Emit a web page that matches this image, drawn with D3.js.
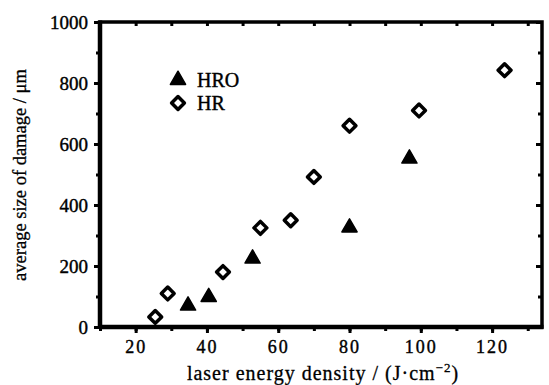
<!DOCTYPE html>
<html>
<head>
<meta charset="utf-8">
<script src="https://cdn.jsdelivr.net/npm/d3@7"></script>
<style>
  body { margin: 0; background: #fff; }
</style>
</head>
<body>
<div id="chart"></div>
<script>
const hrX = [25.5, 29, 44.5, 55, 63.5, 70, 80, 99.5, 123.5];
const hrY = [33, 110, 180, 325, 350, 492, 660, 710, 842];
const hroX = [34.7, 40.5, 52.8, 80, 96.8];
const hroY = [70, 98, 224, 326, 552];
const xTicks = [20, 40, 60, 80, 100, 120];
const yTicks = [0, 200, 400, 600, 800, 1000];
const xLabel = "laser energy density / (J\u00b7cm";
const yLabel = "average size of damage / \u03bcm";

const FONT = "'Liberation Serif', 'DejaVu Serif', serif";
const w = 549, h = 385;
const margin = { top: 22, right: 7, bottom: 58, left: 100 };
const width = w - margin.left - margin.right;
const height = h - margin.top - margin.bottom;

const svg = d3.select("#chart").append("svg")
  .attr("width", w).attr("height", h)
  .style("font-family", FONT);
const g = svg.append("g")
  .attr("transform", `translate(${margin.left},${margin.top})`);

const xSc = d3.scaleLinear().domain([10, 134]).range([0, width]);
const ySc = d3.scaleLinear().domain([0, 1000]).range([height, 0]);

const minorX = d3.range(10, 134, 10);
const minorY = d3.range(0, 1001, 100);

function styleAxis(sel, size) {
  sel.attr("font-family", FONT);
  sel.select(".domain").remove();
  sel.selectAll("line").attr("stroke", "#000").attr("stroke-width", 3);
  sel.selectAll("text")
    .style("font-family", FONT)
    .style("font-size", size + "px")
    .attr("fill", "#000").attr("stroke", "#000").attr("stroke-width", 0.4);
}

// minor ticks
g.append("g").attr("transform", `translate(0,${height})`)
  .call(d3.axisBottom(xSc).tickValues(minorX).tickSize(4).tickFormat(""))
  .call(s => styleAxis(s, 0));
g.append("g")
  .call(d3.axisLeft(ySc).tickValues(minorY).tickSize(4).tickFormat(""))
  .call(s => styleAxis(s, 0));
g.append("g")
  .call(d3.axisBottom(xSc).tickValues(minorX).tickSize(4).tickFormat(""))
  .call(s => styleAxis(s, 0));
g.append("g").attr("transform", `translate(${width},0)`)
  .call(d3.axisRight(ySc).tickValues(minorY).tickSize(-4).tickFormat(""))
  .call(s => styleAxis(s, 0));

// major ticks with labels
g.append("g").attr("transform", `translate(0,${height})`)
  .call(d3.axisBottom(xSc).tickValues(xTicks).tickSize(6).tickPadding(7).tickFormat(d3.format("d")))
  .call(s => styleAxis(s, 18))
  .call(s => s.selectAll("text").style("letter-spacing", "2px"));
g.append("g")
  .call(d3.axisLeft(ySc).tickValues(yTicks).tickSize(6).tickPadding(6).tickFormat(d3.format("d")))
  .call(s => styleAxis(s, 19));
g.append("g").attr("transform", `translate(${width},0)`)
  .call(d3.axisRight(ySc).tickValues(yTicks).tickSize(-6).tickFormat(""))
  .call(s => styleAxis(s, 0));

// frame
g.append("rect")
  .attr("x", 0).attr("y", 0).attr("width", width).attr("height", height)
  .attr("fill", "none").attr("stroke", "#000").attr("stroke-width", 3.5);
g.append("line").attr("x1", 0).attr("x2", 0).attr("y1", -1.5).attr("y2", height + 2)
  .attr("stroke", "#000").attr("stroke-width", 4.5);
g.append("line").attr("x1", 0).attr("x2", width + 1.5).attr("y1", height).attr("y2", height)
  .attr("stroke", "#000").attr("stroke-width", 4.5);

// HR diamonds
const diamond = d3.symbol().type(d3.symbolDiamond2).size(105);
g.selectAll(".hr").data(hrX).join("path")
  .attr("class", "hr")
  .attr("transform", (d, i) => `translate(${xSc(d)},${ySc(hrY[i])})`)
  .attr("d", diamond)
  .attr("fill", "#fff").attr("stroke", "#000").attr("stroke-width", 3.5)
  .attr("stroke-linejoin", "round");

// HRO triangles
const tri = d3.symbol().type(d3.symbolTriangle).size(100);
g.selectAll(".hro").data(hroX).join("path")
  .attr("class", "hro")
  .attr("transform", (d, i) => `translate(${xSc(d)},${ySc(hroY[i])})`)
  .attr("d", tri)
  .attr("fill", "#000").attr("stroke", "#000").attr("stroke-width", 1.5)
  .attr("stroke-linejoin", "round");

// legend
const legend = svg.append("g").attr("transform", "translate(178,80)");
legend.append("path").attr("d", tri)
  .attr("fill", "#000").attr("stroke", "#000").attr("stroke-width", 1.5)
  .attr("stroke-linejoin", "round");
legend.append("text").attr("x", 19).attr("y", 6.5)
  .style("font-size", "20px").attr("stroke", "#000").attr("stroke-width", 0.4)
  .text("HRO");
legend.append("path").attr("d", diamond).attr("transform", "translate(0,23)")
  .attr("fill", "#fff").attr("stroke", "#000").attr("stroke-width", 3.5)
  .attr("stroke-linejoin", "round");
legend.append("text").attr("x", 19).attr("y", 30)
  .style("font-size", "20px").attr("stroke", "#000").attr("stroke-width", 0.4)
  .text("HR");

// axis titles
const xt = svg.append("text")
  .attr("x", 323).attr("y", 380)
  .attr("text-anchor", "middle").style("font-size", "20px")
  .style("letter-spacing", "1px")
  .attr("stroke", "#000").attr("stroke-width", 0.3);
xt.append("tspan").text(xLabel);
xt.append("tspan").attr("dy", -8).style("font-size", "13px").text("\u22122");
xt.append("tspan").attr("dy", 8).text(")");

svg.append("text")
  .attr("transform", `translate(26,175) rotate(-90)`)
  .attr("text-anchor", "middle").style("font-size", "18.5px")
  .attr("stroke", "#000").attr("stroke-width", 0.3)
  .text(yLabel);
</script>
</body>
</html>
